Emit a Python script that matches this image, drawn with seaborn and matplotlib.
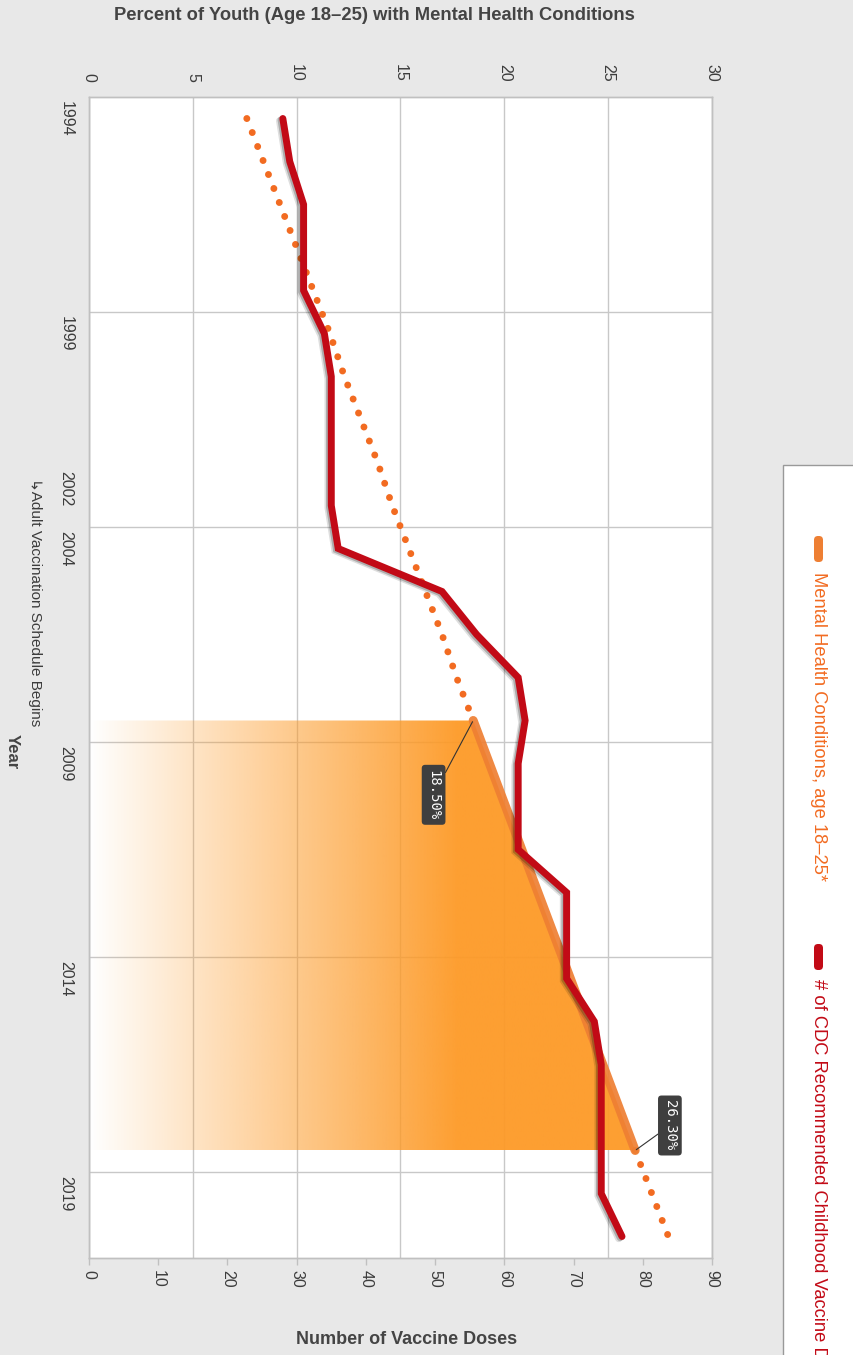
import numpy as np
import matplotlib
matplotlib.use("Agg")
import matplotlib.pyplot as plt
import matplotlib.patheffects as pe
from matplotlib.colors import to_rgb
from matplotlib.patches import Rectangle, FancyBboxPatch
import seaborn as sns

# --- data ---
years = list(range(1994, 2021))
vaccine_doses = [28, 29, 31, 31, 31, 34, 35, 35, 35, 35, 36, 51, 56, 62, 63,
                 62, 62, 62, 69, 69, 69, 73, 74, 74, 74, 74, 77]

trend_years_early = list(range(1994, 2009))
mh_trend_early = [7.6, 8.4, 9.2, 10.0, 10.8, 11.6, 12.3, 13.1, 13.9, 14.6,
                  15.4, 16.2, 17.0, 17.7, 18.5]
measured_years = [2008, 2018]
mh_measured = [18.5, 26.3]
trend_years_late = [2018, 2019, 2020]
mh_trend_late = [26.3, 27.1, 27.9]

year_ticks = [1994, 1999, 2004, 2009, 2014, 2019]
year_bounds = [1998.5, 2003.5, 2008.5, 2013.5, 2018.5]
pct_ticks = [0, 5, 10, 15, 20, 25, 30]
dose_ticks = list(range(0, 100, 10))

# colours
BG = "#E8E8E8"
RED = "#C20A16"
ORANGE_DOT = "#F26B21"
ORANGE_LINE = "#EE7F33"
ORANGE_FILL = "#FD9A27"
GRID = "#C8C8C8"
TXT = "#3C3C3C"

sns.set_style("white")
plt.rcParams["font.family"] = ["Liberation Sans", "DejaVu Sans"]

W, H = 854, 1355
fig = plt.figure(figsize=(W / 100, H / 100), dpi=100, facecolor=BG)


def px_rect(x0, y0, x1, y1):
    return [x0 / W, 1 - y1 / H, (x1 - x0) / W, (y1 - y0) / H]


# percent axes (top scale) holds grid + orange series, doses axes on top of it
ax = fig.add_axes(px_rect(89, 97, 712, 1258))
ax.set_facecolor("white")
ax2 = ax.twiny()

# gradient area under the measured segment
fill = ax.fill_betweenx(measured_years, 0, mh_measured, color="none", lw=0)
grad = np.zeros((1, 600, 4))
grad[..., :3] = to_rgb(ORANGE_FILL)
grad[..., 3] = np.clip(np.linspace(0, 30, 600) / 17.7, 0, 1) * 0.95
im = ax.imshow(grad, extent=[0, 30, 2018, 2008], aspect="auto",
               interpolation="bilinear", zorder=1)
im.set_clip_path(fill.get_paths()[0], transform=ax.transData)

dot_style = dict(color=ORANGE_DOT, lw=5, linestyle=(0, (0.01, 2.15)),
                 dash_capstyle="round", zorder=3)
sns.lineplot(x=mh_trend_early, y=trend_years_early, orient="y",
             estimator=None, ax=ax, **dot_style)
sns.lineplot(x=mh_trend_late, y=trend_years_late, orient="y",
             estimator=None, ax=ax, **dot_style)
sns.lineplot(x=mh_measured, y=measured_years, orient="y", estimator=None,
             ax=ax, color=ORANGE_LINE, lw=6.5, alpha=0.92,
             solid_capstyle="round", zorder=4)

shadow = [pe.SimpleLineShadow(offset=(-2.4, -1.6), shadow_color="k", alpha=0.13),
          pe.SimpleLineShadow(offset=(-1.3, -0.9), shadow_color="k", alpha=0.22),
          pe.Normal()]
sns.lineplot(x=vaccine_doses, y=years, orient="y", estimator=None, ax=ax2,
             color=RED, lw=5, solid_joinstyle="miter", solid_capstyle="round",
             path_effects=shadow, zorder=5)

# labels on the two highlighted points
box = dict(boxstyle="round,pad=0.35,rounding_size=0.25", fc="#3F3F3F", ec="none")
ax.annotate("18.50%", xy=(mh_measured[0], measured_years[0]),
            xytext=(-28.5, -53.5), textcoords="offset points",
            rotation=-90, ha="center", va="center", color="white",
            family="DejaVu Sans Mono", fontsize=10, bbox=box, zorder=7,
            arrowprops=dict(arrowstyle="-", color="#333333", lw=0.8,
                            shrinkA=0, shrinkB=1))
ax.annotate("26.30%", xy=(mh_measured[1], measured_years[1]),
            xytext=(25, 18), textcoords="offset points",
            rotation=-90, ha="center", va="center", color="white",
            family="DejaVu Sans Mono", fontsize=10, bbox=box, zorder=7,
            arrowprops=dict(arrowstyle="-", color="#333333", lw=0.8,
                            shrinkA=0, shrinkB=1))

# axes, ticks, grid
ax.set_xlim(0, 30)
ax2.set_xlim(0, 90)
ax.set_ylim(2020.5, 1993.5)

ax.xaxis.tick_top()
ax.set_xticks(pct_ticks)
ax.tick_params(axis="x", length=0, pad=11, labelsize=11.5,
               labelcolor=TXT, labelrotation=-90)
ax2.xaxis.tick_bottom()
ax2.set_xticks(dose_ticks)
ax2.tick_params(axis="x", length=5, width=1, color="#C0C0C0", pad=4,
                labelsize=11.5, labelcolor=TXT, labelrotation=-90)
ax.set_yticks(year_ticks)
ax.set_yticks(year_bounds, minor=True)
ax.tick_params(axis="y", which="both", length=0, pad=11, labelsize=11.5,
               labelcolor=TXT, labelrotation=-90)
for lbl in ax.get_yticklabels():
    lbl.set_va("center")

ax.set_axisbelow(True)
ax.grid(axis="x", which="major", color=GRID, lw=1)
ax.grid(axis="y", which="minor", color=GRID, lw=1)
ax.grid(axis="y", which="major", visible=False)
for a in (ax, ax2):
    for s in a.spines.values():
        s.set_color("#C0C0C0")
        s.set_linewidth(1)
ax.set_xlabel("")
ax.set_ylabel("")
ax2.set_xlabel("")

# annotation on the year axis
yx = ax.get_yaxis_transform()
ax.text(-0.037, 2002.6, "2002", transform=yx, rotation=-90, ha="center",
        va="center", fontsize=11.5, color=TXT)
ax.text(-0.086, 2005.25, "\u21b3Adult Vaccination Schedule Begins",
        transform=yx, rotation=-90, ha="center", va="center", fontsize=11,
        color=TXT)

# overlay in pixel units for titles and legend
ov = fig.add_axes([0, 0, 1, 1], zorder=10)
ov.set_xlim(0, W)
ov.set_ylim(H, 0)
ov.axis("off")

ov.text(374, 15, "Percent of Youth (Age 18\u201325) with Mental Health Conditions",
        ha="center", va="center", fontsize=13.2, fontweight="bold", color="#444444")
ov.text(407, 1340, "Number of Vaccine Doses", ha="center", va="center",
        fontsize=13, fontweight="bold", color="#444444")
ov.text(12, 752, "Year", rotation=-90, ha="center", va="center",
        fontsize=12, fontweight="bold", color="#444444")

ov.add_patch(Rectangle((783, 465), 90, 920, fc="white", ec="#999999", lw=1))
ov.add_patch(FancyBboxPatch((814, 536), 9, 26, boxstyle="round,pad=0,rounding_size=4",
                            fc=ORANGE_LINE, ec="none"))
ov.text(818.5, 572, "Mental Health Conditions, age 18\u201325*", rotation=-90,
        ha="center", va="top", fontsize=13.2, color="#F26B21")
ov.add_patch(FancyBboxPatch((814, 944), 9, 26, boxstyle="round,pad=0,rounding_size=4",
                            fc=RED, ec="none"))
ov.text(818.5, 979, "# of CDC Recommended Childhood Vaccine Doses", rotation=-90,
        ha="center", va="top", fontsize=13.2, color=RED)

fig.savefig("out.png", dpi=100, facecolor=fig.get_facecolor())
